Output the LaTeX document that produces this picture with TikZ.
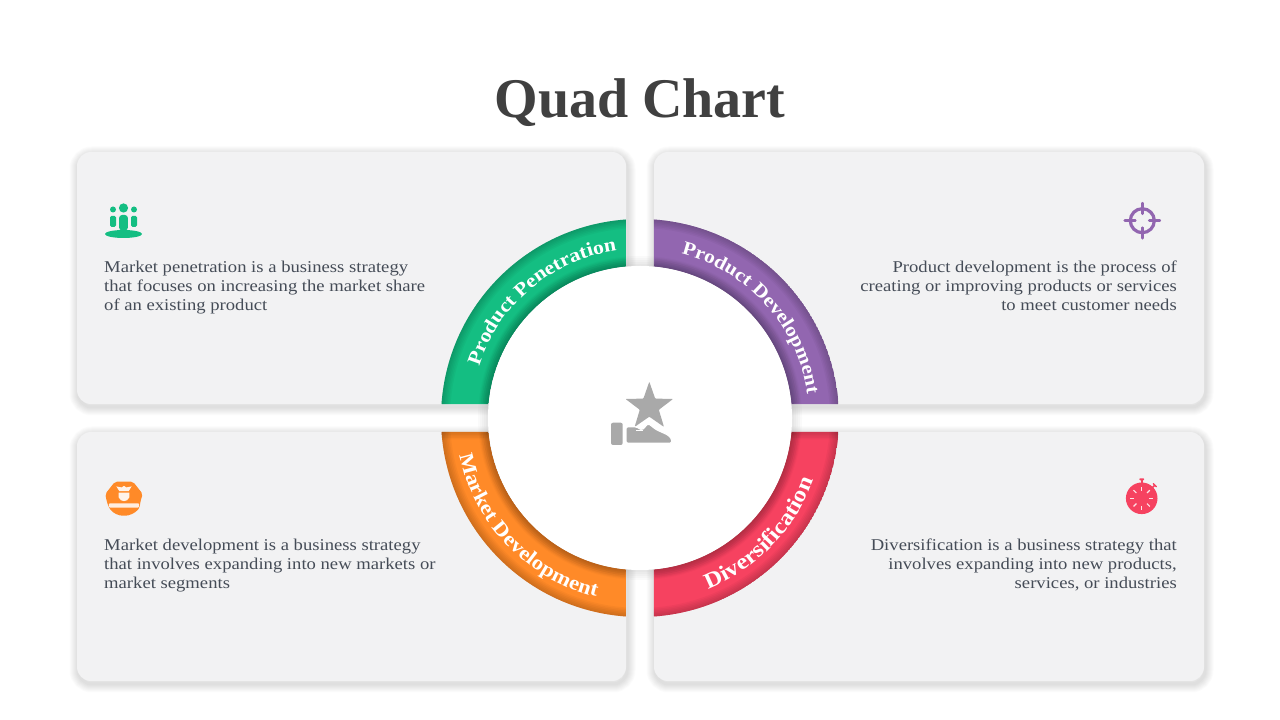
\documentclass[tikz,border=0pt]{standalone}
\usepackage{fontspec}
\setmainfont[FakeStretch=1.13]{Liberation Serif}
\newfontfamily\titlefont{Liberation Serif}
\usetikzlibrary{decorations.text}
\usetikzlibrary{calc}
\definecolor{cardgray}{HTML}{F2F2F3}
\definecolor{titlegray}{HTML}{404040}
\definecolor{bodygray}{HTML}{454C57}
\definecolor{icongray}{HTML}{A9A9A9}
\definecolor{penegreen}{HTML}{14BE82}
\definecolor{devpurple}{HTML}{9266B0}
\definecolor{mktorange}{HTML}{FF8A28}
\definecolor{divred}{HTML}{F64260}
\newcommand{\arcfont}[1]{\fontsize{#1}{#1}\selectfont\bfseries\color{white}}
\newcommand{\sectorpath}{(94.03:199) arc[start angle=94.03, end angle=175.97, radius=199] -- (174.72:152) arc[start angle=174.72, end angle=95.28, radius=152] -- cycle}
\tikzset{
shadow ply/.style={preaction={draw=black, draw opacity=0.015, fill=none, line width=#1, transform canvas={xshift=1pt, yshift=-3pt}}},
soft shadow/.style={shadow ply=17pt, shadow ply=15pt, shadow ply=13pt, shadow ply=11pt, shadow ply=9pt, shadow ply=7pt, shadow ply=5pt, shadow ply=3pt},
card/.style={rectangle, fill=cardgray, inner sep=0pt, outer sep=0pt, rounded corners=14pt, soft shadow},
blurb/.style={inner sep=0pt, text=bodygray, font=\fontsize{16.5}{19}\selectfont},
arc label/.style 2 args={decorate, decoration={text along path, text align=center, text={|\arcfont{#1}|#2}}},
}
\tikzset{
pics/ring sector/.style={
        code = {
        \begin{scope}
        \clip \sectorpath;
        \fill[#1] \sectorpath;
        \foreach \w in {3,6,9,12,15,18} {
            \draw[black, opacity=0.03, line width=\w pt] (94.03:199) arc[start angle=94.03, end angle=175.97, radius=199];
            \draw[black, opacity=0.03, line width=\w pt] (174.72:152) arc[start angle=174.72, end angle=95.28, radius=152];
        }
        \end{scope}
        }
    },
pics/end shade/.style={
        code = {
        \begin{scope}
        \clip \sectorpath;
        \foreach \w in {3,6,9,12,15} {
            \draw[black, opacity=0.03, line width=\w pt] #1;
        }
        \end{scope}
        }
    },
pics/team icon/.style={
        code = {
        \fill[#1] (0,-14) ellipse[x radius=18.5, y radius=4];
        \fill[#1] (0,12) circle[radius=4.6];
        \fill[#1] (-10.5,10.5) circle[radius=3];
        \fill[#1] (10.5,10.5) circle[radius=3];
        \fill[#1, rounded corners=3pt] (-4.4,-10.5) -- (-4.4,5) -- (4.4,5) -- (4.4,-10.5) -- cycle;
        \fill[#1, rounded corners=1.5pt] (-13.5,-7) -- (-13.5,4) -- (-7.5,4) -- (-7.5,-7) -- cycle;
        \fill[#1, rounded corners=1.5pt] (7.5,-7) -- (7.5,4) -- (13.5,4) -- (13.5,-7) -- cycle;
        }
    },
pics/target icon/.style={
        code = {
        \draw[#1, line width=3.2pt] (0,0) circle[radius=12];
        \foreach \a in {0,90,180,270} {
            \draw[#1, line width=2.8pt, line cap=round] (\a:7) -- (\a:17.5);
        }
        }
    },
pics/cap icon/.style={
        code = {
        \fill[#1, rounded corners=2pt] (-7.7,16) -- (7.7,16) -- (16,4.3) -- (14,-3) -- (13.3,-9) .. controls (9,-14.5) and (4,-16.3) .. (0,-16.3) .. controls (-4,-16.3) and (-9,-14.5) .. (-12.7,-9) -- (-14.7,-3) -- (-16,4.3) -- cycle;
        \fill[white!85!#1, rounded corners=1pt] (-13,-4.6) rectangle (13,-8.6);
        \fill[white!90!#1] (-6.5,11.5) -- (-2,10.5) -- (0,12) -- (2,10.5) -- (6.5,11.5) -- (4,7) -- (-4,7) -- cycle;
        \fill[white!90!#1] (-4.5,5.5) -- (4.5,5.5) -- (4.5,1) .. controls (4,-1.5) and (1.5,-2.5) .. (0,-2.5) .. controls (-1.5,-2.5) and (-4,-1.5) .. (-4.5,1) -- cycle;
        }
    },
pics/watch icon/.style={
        code = {
        \fill[#1] (0,0) circle[radius=15.8];
        \fill[#1] (-0.9,14) rectangle (0.9,19);
        \fill[#1, rounded corners=0.8pt] (-2.4,18) rectangle (2.4,20);
        \draw[#1, line width=1.6pt] (45:14) -- (45:18.5);
        \draw[#1, line width=1.4pt, line cap=round] ($(45:18.5)+(-1.5,1.5)$) -- ($(45:18.5)+(1.5,-1.5)$);
        \foreach \a in {0,45,...,315} {
            \draw[white!85!#1, line width=1.1pt] (\a:7.5) -- (\a:11.5);
        }
        }
    },
pics/award icon/.style={
        code = {
        \begin{scope}[shift={(9.3,11.3)}]
        \fill[#1, rounded corners=0.8pt] (90:25) -- (54:10) -- (18:25) -- (-18:10) -- (-54:25) -- (-90:10) -- (-126:25) -- (-162:10) -- (162:25) -- (126:10) -- cycle;
        \end{scope}
        \fill[#1, draw=white, line width=1.2pt, rounded corners=1.5pt] (-14,-25.3) -- (-14,-8.7) -- (-4,-8.7) -- (2,-12) -- (8.3,-5.5) -- (16,-11.5) -- (28,-17) -- (31.7,-21) -- (31.7,-25.3) -- cycle;
        \draw[white, line width=1pt] (-4,-13) -- (3,-13);
        \fill[#1, rounded corners=2pt] (-29,-27) rectangle (-17.3,-4.7);
        }
    }
}
\begin{document}
\begin{tikzpicture}[x=1pt, y=1pt]
    \useasboundingbox (0,0) rectangle (1280,720);
    \node[font=\titlefont\fontsize{56}{56}\selectfont\bfseries, text=titlegray, inner sep=0pt] (title) at (640,617) {Quad Chart};

    \node[card, minimum width=549pt, minimum height=252pt] (pene card) at (351.5,442) {};
    \node[card, minimum width=550pt, minimum height=252pt] (dev card) at (929,442) {};
    \node[card, minimum width=549pt, minimum height=249pt] (mkt card) at (351.5,163.5) {};
    \node[card, minimum width=550pt, minimum height=249pt] (div card) at (929,163.5) {};

    \node[blurb, anchor=north west, align=left] (pene text) at (104,459) {Market penetration is a business strategy\\that focuses on increasing the market share\\of an existing product};
    \node[blurb, anchor=north east, align=right] (dev text) at (1177,459) {Product development is the process of\\creating or improving products or services\\to meet customer needs};
    \node[blurb, anchor=north west, align=left] (mkt text) at (104,181) {Market development is a business strategy\\that involves expanding into new markets or\\market segments};
    \node[blurb, anchor=north east, align=right] (div text) at (1177,181) {Diversification is a business strategy that\\involves expanding into new products,\\services, or industries};

    \pic at (123.5,500) {team icon=penegreen};
    \pic at (1142.3,499.3) {target icon=devpurple};
    \pic[xscale=1.17, yscale=1.05] at (124,221.5) {cap icon=mktorange};
    \pic at (1141.7,221.7) {watch icon=divred};

    \coordinate (hub) at (640,302);
    \pic at (hub) {ring sector=penegreen};
    \pic[rotate=-90] at (hub) {ring sector=devpurple};
    \pic[rotate=90] at (hub) {ring sector=mktorange};
    \pic[rotate=180] at (hub) {ring sector=divred};
    \pic[rotate=90] at (hub) {end shade={(94.03:199) -- (95.28:152)}};
    \pic[rotate=180] at (hub) {end shade={(175.97:199) -- (174.72:152)}};

    % soft rim round the hub
    \foreach \w in {20,16,12,8,4} {
        \draw[black, opacity=0.018, line width=\w pt] (hub) circle[radius=152];
    }
    \node[circle, fill=white, minimum size=304pt, inner sep=0pt, outer sep=0pt] (center disc) at (hub) {};
    \pic at (hub) {award icon=icongray};

    \path[arc label={19.3}{Product Penetration}] (hub) ++(175:169) arc[start angle=175, end angle=85, radius=169];
    \path[arc label={19}{Product Development}] (hub) ++(87:169) arc[start angle=87, end angle=-3, radius=169];
    \path[arc label={20.2}{Market Development}] (hub) ++(179:184) arc[start angle=179, end angle=269, radius=184];
    \path[arc label={22}{Diversification}] (hub) ++(-89:184) arc[start angle=-89, end angle=1, radius=184];
\end{tikzpicture}
\end{document}
